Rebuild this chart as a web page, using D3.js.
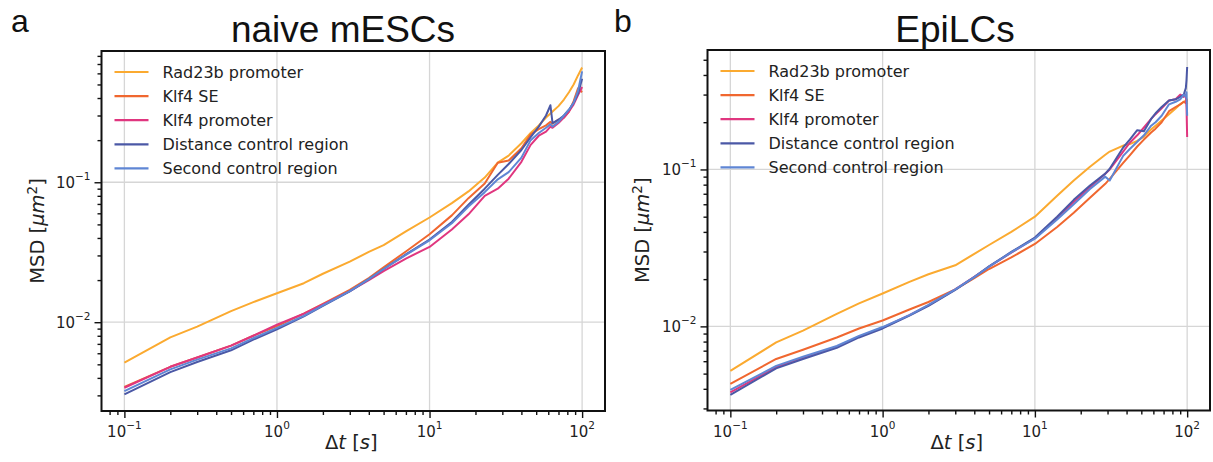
<!DOCTYPE html>
<html>
<head>
<meta charset="utf-8">
<script src="https://cdn.jsdelivr.net/npm/d3@7"></script>
<style>
  body { margin: 0; background: #fff; }
  svg { display: block; }
</style>
</head>
<body>
<div id="chart"></div>
<script>
// MSD curves, log-log, two panels

const seriesNames = ["Rad23b promoter", "Klf4 SE", "Klf4 promoter", "Distance control region", "Second control region"];
const seriesColors = ["#fbaa30", "#f0672f", "#e0367f", "#4b58a6", "#5f86d4"];

// panel a: naive mESCs
const timeA = [0.1, 0.2, 0.3, 0.5, 0.7, 1, 1.5, 2, 3, 4, 5, 7, 10, 14, 18, 23, 28, 33, 40, 46, 52, 58, 62, 64, 70, 76, 82, 88, 94, 100];
const rad23bA = [0.00514, 0.0078, 0.0093, 0.0120, 0.0139, 0.0161, 0.0190, 0.0222, 0.0271, 0.0318, 0.0355, 0.0445, 0.0560, 0.071, 0.086, 0.108, 0.138, 0.155, 0.190, 0.225, 0.255, 0.290, 0.310, 0.320, 0.350, 0.390, 0.440, 0.500, 0.580, 0.660];
const klf4SeA = [0.00345, 0.0048, 0.0056, 0.0068, 0.0080, 0.0094, 0.0115, 0.0135, 0.0170, 0.0207, 0.0247, 0.0320, 0.0425, 0.058, 0.077, 0.098, 0.138, 0.143, 0.175, 0.220, 0.240, 0.255, 0.270, 0.262, 0.280, 0.290, 0.320, 0.380, 0.470, 0.440];
const klf4PromA = [0.00340, 0.0048, 0.0056, 0.0068, 0.0080, 0.0096, 0.0115, 0.0134, 0.0167, 0.0200, 0.0232, 0.0285, 0.0345, 0.046, 0.059, 0.080, 0.090, 0.106, 0.140, 0.185, 0.215, 0.230, 0.250, 0.245, 0.265, 0.290, 0.320, 0.360, 0.420, 0.480];
const distCtrlA = [0.00305, 0.0044, 0.0052, 0.0063, 0.0075, 0.0089, 0.0110, 0.0131, 0.0166, 0.0203, 0.0240, 0.0305, 0.0390, 0.052, 0.069, 0.090, 0.113, 0.135, 0.170, 0.210, 0.250, 0.300, 0.355, 0.265, 0.280, 0.300, 0.330, 0.370, 0.430, 0.550];
const secCtrlA = [0.00322, 0.0046, 0.0054, 0.0065, 0.0077, 0.0091, 0.0111, 0.0132, 0.0167, 0.0203, 0.0240, 0.0303, 0.0385, 0.051, 0.067, 0.085, 0.105, 0.118, 0.150, 0.200, 0.225, 0.245, 0.260, 0.250, 0.270, 0.300, 0.330, 0.370, 0.450, 0.620];

// panel b: EpiLCs
const timeB = [0.1, 0.2, 0.3, 0.5, 0.7, 1, 1.5, 2, 3, 4, 5, 7, 10, 14, 18, 23, 29, 31, 38, 42, 47, 52, 58, 62, 68, 76, 84, 90, 95, 98, 99, 100];
const rad23bB = [0.0052, 0.0079, 0.0094, 0.0120, 0.0140, 0.0162, 0.0192, 0.0215, 0.0245, 0.0290, 0.0330, 0.0400, 0.0500, 0.068, 0.085, 0.104, 0.124, 0.130, 0.142, 0.145, 0.152, 0.162, 0.180, 0.190, 0.205, 0.225, 0.245, 0.260, 0.270, 0.275, 0.280, 0.260];
const klf4SeB = [0.0043, 0.0062, 0.0071, 0.0085, 0.0097, 0.0109, 0.0128, 0.0143, 0.0172, 0.0203, 0.0232, 0.0275, 0.0335, 0.043, 0.053, 0.066, 0.081, 0.087, 0.110, 0.123, 0.140, 0.155, 0.172, 0.182, 0.200, 0.235, 0.250, 0.260, 0.270, 0.265, 0.280, 0.270];
const klf4PromB = [0.0038, 0.0055, 0.0063, 0.0074, 0.0086, 0.0098, 0.0118, 0.0136, 0.0172, 0.0207, 0.0240, 0.0295, 0.0365, 0.049, 0.062, 0.077, 0.094, 0.100, 0.130, 0.148, 0.165, 0.185, 0.210, 0.225, 0.245, 0.275, 0.280, 0.300, 0.290, 0.300, 0.250, 0.161];
const distCtrlB = [0.00366, 0.0054, 0.0062, 0.0073, 0.0085, 0.0097, 0.0117, 0.0135, 0.0171, 0.0206, 0.0241, 0.0298, 0.0368, 0.050, 0.064, 0.079, 0.094, 0.101, 0.138, 0.155, 0.178, 0.175, 0.210, 0.228, 0.250, 0.275, 0.280, 0.290, 0.300, 0.330, 0.370, 0.450];
const secCtrlB = [0.00394, 0.0056, 0.0064, 0.0075, 0.0087, 0.0099, 0.0118, 0.0137, 0.0172, 0.0206, 0.0240, 0.0296, 0.0362, 0.048, 0.060, 0.075, 0.090, 0.085, 0.122, 0.135, 0.150, 0.165, 0.190, 0.200, 0.220, 0.260, 0.270, 0.280, 0.300, 0.290, 0.310, 0.220];

const majorX = [0.1, 1, 10, 100];
const majorY = [0.01, 0.1];

const W = 1213, H = 462;
const svg = d3.select("#chart").append("svg")
  .attr("width", W)
  .attr("height", H);
svg.append("rect").attr("width", W).attr("height", H).attr("fill", "#fff");

const tickFont = "'DejaVu Sans', sans-serif";
const titleFont = "'Liberation Sans', Arial, sans-serif";

function expLabel(sel, v) {
  const e = Math.round(Math.log10(v));
  sel.append("tspan").text("10");
  sel.append("tspan")
    .attr("dy", -8)
    .style("font-size", "10.5px")
    .text(e < 0 ? "\u2212" + (-e) : String(e));
}

function drawPanel(cfg) {
  const { left, top, right, bottom } = cfg;
  const g = svg.append("g");

  const x = d3.scaleLog().domain(cfg.xDomain).range([left, right]);
  const y = d3.scaleLog().domain(cfg.yDomain).range([bottom, top]);

  const clipId = "clip-" + cfg.letter;
  g.append("clipPath").attr("id", clipId)
    .append("rect")
    .attr("x", left).attr("y", top)
    .attr("width", right - left).attr("height", bottom - top);

  // grid
  g.selectAll(".gx").data(majorX).join("line")
    .attr("x1", d => x(d)).attr("x2", d => x(d))
    .attr("y1", top).attr("y2", bottom)
    .attr("stroke", "#d6d6d6").attr("stroke-width", 1.3);
  g.selectAll(".gy").data(majorY).join("line")
    .attr("x1", left).attr("x2", right)
    .attr("y1", d => y(d)).attr("y2", d => y(d))
    .attr("stroke", "#d6d6d6").attr("stroke-width", 1.3);

  // lines
  const line = d3.line()
    .x((d, i) => x(cfg.times[i]))
    .y(d => y(d));
  const lines = g.append("g").attr("clip-path", `url(#${clipId})`);
  cfg.series.forEach((vals, k) => {
    lines.append("path")
      .datum(vals)
      .attr("d", line)
      .attr("fill", "none")
      .attr("stroke", seriesColors[k])
      .attr("stroke-width", 2)
      .attr("stroke-linejoin", "round");
  });

  // axes: minor + major ticks
  const xMinor = x.ticks().filter(v => majorX.indexOf(v) < 0 && v >= cfg.xDomain[0] && v <= cfg.xDomain[1]);
  const yMinor = y.ticks().filter(v => !majorY.some(m => Math.abs(m - v) < 1e-9) && v >= cfg.yDomain[0] && v <= cfg.yDomain[1]);

  const xAxisMinor = g.append("g").attr("transform", `translate(0,${bottom})`)
    .call(d3.axisBottom(x).tickValues(xMinor).tickSize(4).tickFormat(""));
  const xAxisMajor = g.append("g").attr("transform", `translate(0,${bottom})`)
    .call(d3.axisBottom(x).tickValues(majorX).tickSize(7).tickFormat(""));
  const yAxisMinor = g.append("g").attr("transform", `translate(${left},0)`)
    .call(d3.axisLeft(y).tickValues(yMinor).tickSize(4).tickFormat(""));
  const yAxisMajor = g.append("g").attr("transform", `translate(${left},0)`)
    .call(d3.axisLeft(y).tickValues(majorY).tickSize(7).tickFormat(""));
  [xAxisMinor, xAxisMajor, yAxisMinor, yAxisMajor].forEach(a => {
    a.select(".domain").remove();
    a.selectAll(".tick line").attr("stroke", "#111").attr("stroke-width", 1.4);
  });

  // tick labels
  majorX.forEach(v => {
    const t = g.append("text")
      .attr("x", x(v)).attr("y", bottom + 26)
      .attr("text-anchor", "middle")
      .style("font-family", tickFont).style("font-size", "15px")
      .attr("fill", "#222");
    expLabel(t, v);
  });
  majorY.forEach(v => {
    const t = g.append("text")
      .attr("x", left - 11).attr("y", y(v) + 5.5)
      .attr("text-anchor", "end")
      .style("font-family", tickFont).style("font-size", "15px")
      .attr("fill", "#222");
    expLabel(t, v);
  });

  // frame
  g.append("rect")
    .attr("x", left).attr("y", top)
    .attr("width", right - left).attr("height", bottom - top)
    .attr("fill", "none").attr("stroke", "#111").attr("stroke-width", 2);

  // axis labels
  const xl = g.append("text")
    .attr("x", (left + right) / 2 - 2).attr("y", 449)
    .attr("text-anchor", "middle")
    .style("font-family", tickFont).style("font-size", "19.5px")
    .attr("fill", "#222");
  xl.append("tspan").text("\u0394");
  xl.append("tspan").style("font-style", "italic").text("t");
  xl.append("tspan").text(" [");
  xl.append("tspan").style("font-style", "italic").text("s");
  xl.append("tspan").text("]");

  const yl = g.append("text")
    .attr("transform", `translate(${cfg.yLabelX},${(top + bottom) / 2}) rotate(-90)`)
    .attr("text-anchor", "middle")
    .style("font-family", tickFont).style("font-size", "19.5px")
    .attr("fill", "#222");
  yl.append("tspan").text("MSD [");
  yl.append("tspan").style("font-style", "italic").text("\u03bcm");
  yl.append("tspan").attr("dy", -7).style("font-size", "13.5px").text("2");
  yl.append("tspan").attr("dy", 7).text("]");

  // legend
  seriesNames.forEach((name, k) => {
    const cy = top + 21 + k * 24.1;
    g.append("line")
      .attr("x1", left + 13).attr("x2", left + 47)
      .attr("y1", cy).attr("y2", cy)
      .attr("stroke", seriesColors[k]).attr("stroke-width", 2.2);
    g.append("text")
      .attr("x", left + 61).attr("y", cy + 5.8)
      .style("font-family", tickFont).style("font-size", "16px")
      .attr("fill", "#222")
      .text(name);
  });

  // title and panel letter
  g.append("text")
    .attr("x", cfg.titleX).attr("y", 42)
    .attr("text-anchor", "middle")
    .style("font-family", titleFont).style("font-size", "37px")
    .attr("fill", "#111")
    .text(cfg.title);
  g.append("text")
    .attr("x", cfg.letterX).attr("y", 32)
    .style("font-family", titleFont).style("font-size", "32px")
    .attr("fill", "#111")
    .text(cfg.letter);
}

drawPanel({
  letter: "a", letterX: 11, title: "naive mESCs", titleX: 343,
  left: 101.5, top: 51, right: 605, bottom: 411, yLabelX: 44,
  xDomain: [Math.pow(10, -1.15), Math.pow(10, 2.15)],
  yDomain: [0.00232, 0.867],
  times: timeA,
  series: [rad23bA, klf4SeA, klf4PromA, distCtrlA, secCtrlA]
});

drawPanel({
  letter: "b", letterX: 614, title: "EpiLCs", titleX: 955,
  left: 707.5, top: 50, right: 1210, bottom: 410.5, yLabelX: 649,
  xDomain: [Math.pow(10, -1.15), Math.pow(10, 2.15)],
  yDomain: [0.00291, 0.577],
  times: timeB,
  series: [rad23bB, klf4SeB, klf4PromB, distCtrlB, secCtrlB]
});
</script>
</body>
</html>
